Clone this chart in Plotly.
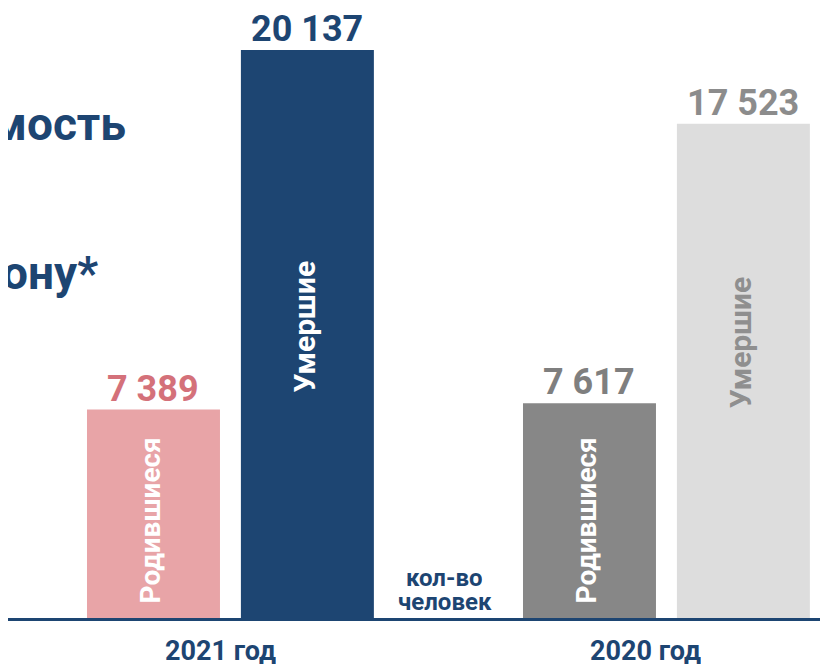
import plotly.graph_objects as go

years = ["2021 год", "2020 год"]
births = [7389, 7617]
deaths = [20137, 17523]
birth_name = "Родившиеся"
death_name = "Умершие"
unit_lines = ["кол-во", "человек"]
title_frag1 = "мость"
title_frag2 = "ону*"

birth_colors = ["#E8A4A7", "#878787"]
death_colors = ["#1D4572", "#DDDDDD"]
birth_val_colors = ["#D4717A", "#7F7F7F"]
death_val_colors = ["#1D4572", "#8C8C8C"]
birth_txt_colors = ["#FFFFFF", "#FFFFFF"]
death_txt_colors = ["#FFFFFF", "#8F8F8F"]

NAVY = "#1D4572"
FONT = "Roboto"

# figure geometry (page body adds an 8px margin)
FIG_W, FIG_H = 820, 657
BASE_PX = 610          # pixel row of the baseline inside the figure
TOP_PX = 42            # pixel row of the tallest bar top
UNIT_PX = 436          # pixels between the two year groups
C0_PX = 222            # pixel x of the first group centre

def fmt(v):
    return f"{v:,}".replace(",", " ")

W_BAR = 0.305
OFF_B = -0.328
OFF_D = 0.025

fig = go.Figure()
fig.add_bar(x=years, y=births, width=W_BAR, offset=OFF_B,
            marker=dict(color=birth_colors, line=dict(width=0)), hoverinfo="skip")
fig.add_bar(x=years, y=deaths, width=W_BAR, offset=OFF_D,
            marker=dict(color=death_colors, line=dict(width=0)), hoverinfo="skip")

ann = []
death_text_shift = [8, 29]
for i, (b, d) in enumerate(zip(births, deaths)):
    xb = i + OFF_B + W_BAR / 2
    xd = i + OFF_D + W_BAR / 2
    # values above bars
    ann.append(dict(x=xb, y=b, xref="x", yref="y", text=f"<b>{fmt(b)}</b>",
                    showarrow=False, yanchor="bottom", yshift=-2,
                    font=dict(family=FONT, size=36, color=birth_val_colors[i])))
    ann.append(dict(x=xd, y=d, xref="x", yref="y", text=f"<b>{fmt(d)}</b>",
                    showarrow=False, yanchor="bottom", yshift=-2,
                    font=dict(family=FONT, size=36, color=death_val_colors[i])))
    # names inside bars
    ann.append(dict(x=xb, y=0, xref="x", yref="y", text=f"<b>{birth_name}</b>",
                    showarrow=False, textangle=-90, yanchor="bottom", yshift=13, xshift=-3,
                    font=dict(family=FONT, size=28, color=birth_txt_colors[i])))
    ann.append(dict(x=xd, y=d / 2, xref="x", yref="y", text=f"<b>{death_name}</b>",
                    showarrow=False, textangle=-90, yanchor="middle",
                    yshift=death_text_shift[i], xshift=-3,
                    font=dict(family=FONT, size=30, color=death_txt_colors[i])))

# year labels under the axis
for i, (yr, sh) in enumerate(zip(years, [-10, -21])):
    ann.append(dict(x=i, y=0, xref="x", yref="y", text=f"<b>{yr}</b>", showarrow=False,
                    yanchor="middle", yshift=-33, xshift=sh, height=26, valign="middle",
                    font=dict(family=FONT, size=27, color=NAVY)))

# unit label
for line, ys in zip(unit_lines, [40, 16]):
    ann.append(dict(x=0.493, y=0, xref="x", yref="y", text=f"<b>{line}</b>", showarrow=False,
                    yanchor="middle", yshift=ys, height=22, valign="middle",
                    font=dict(family=FONT, size=24, color=NAVY)))

# clipped title fragments on the left
PLOT_H = BASE_PX
for frag, right_px, cy_px in [(title_frag1, 120, 116), (title_frag2, 92, 265)]:
    ann.append(dict(x=right_px / FIG_W, y=1 - cy_px / PLOT_H, xref="paper", yref="paper",
                    text=f"<b>{frag}</b>", showarrow=False, xanchor="right", yanchor="middle",
                    font=dict(family=FONT, size=46, color=NAVY)))

x0 = -C0_PX / UNIT_PX
fig.update_layout(
    width=FIG_W, height=FIG_H,
    margin=dict(l=0, r=0, t=0, b=FIG_H - BASE_PX),
    paper_bgcolor="white", plot_bgcolor="white",
    showlegend=False,
    annotations=ann,
    xaxis=dict(type="category", range=[x0, x0 + FIG_W / UNIT_PX], showticklabels=False,
               showline=True, linecolor=NAVY, linewidth=3, showgrid=False, zeroline=False,
               ticks=""),
    yaxis=dict(range=[0, BASE_PX / (BASE_PX - TOP_PX) * max(deaths)], visible=False,
               showgrid=False, zeroline=False),
)
fig.write_html("out.html")
